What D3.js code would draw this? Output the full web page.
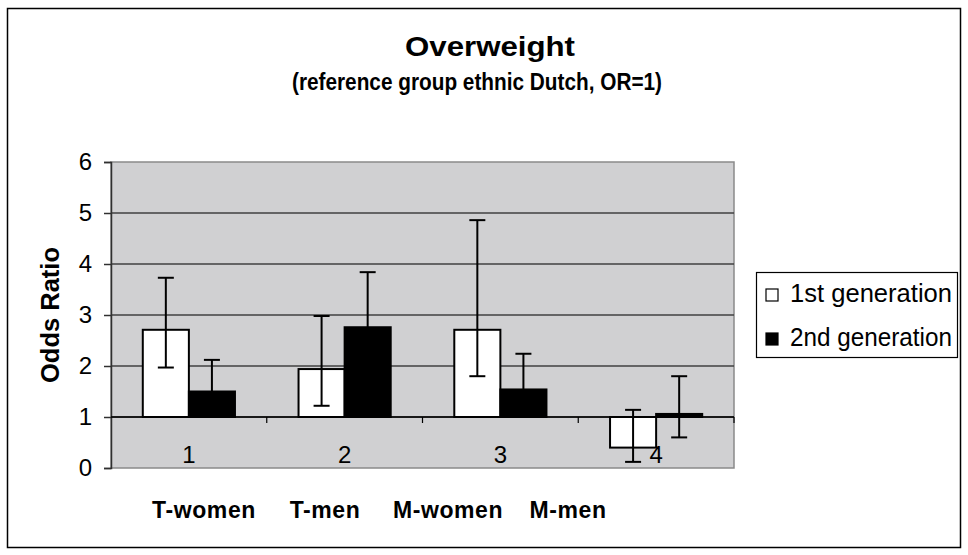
<!DOCTYPE html>
<html>
<head>
<meta charset="utf-8">
<script src="https://cdn.jsdelivr.net/npm/d3@7"></script>
<style>
    body { margin: 0; background: #fff; }
    text { font-family: "Liberation Sans", Arial, sans-serif; }
</style>
</head>
<body>
<div id="chart"></div>
<script>
// values (odds ratios, baseline OR=1)
const categories = ['1', '2', '3', '4']
const groupLabels = ['T-women', 'T-men', 'M-women', 'M-men']
const series = ['1st generation', '2nd generation']
const firstGen = [2.71, 1.94, 2.71, 0.40]
const firstLow = [1.97, 1.22, 1.80, 0.12]
const firstHigh = [3.73, 2.98, 4.86, 1.14]
const secondGen = [1.50, 2.76, 1.54, 1.06]
const secondLow = [1.05, 1.98, 1.08, 0.60]
const secondHigh = [2.12, 3.84, 2.24, 1.80]
const yTicks = [0, 1, 2, 3, 4, 5, 6]

const colors = { '1st generation': '#ffffff', '2nd generation': '#000000' }

class OddsChart {
    constructor(_config) {
        this.config = {
            parentElement: _config.parentElement,
            containerWidth: 968,
            containerHeight: 555,
            plot: { left: 111, right: 734, top: 162, bottom: 468 }
        }
        this.initVis()
    }

    initVis() {
        let vis = this
        let p = vis.config.plot

        vis.svg = d3.select(vis.config.parentElement).append('svg')
            .attr('width', vis.config.containerWidth)
            .attr('height', vis.config.containerHeight)

        // outer frame
        vis.svg.append('rect')
            .attr('x', 7.5).attr('y', 8.5)
            .attr('width', 953).attr('height', 539)
            .attr('fill', '#fff').attr('stroke', '#000').attr('stroke-width', 1.5)

        // the original text is a bit wider than Arial, so stretch it
        vis.svg.append('text')
            .attr('x', 490).attr('y', 56)
            .attr('text-anchor', 'middle')
            .attr('font-size', 28).attr('font-weight', 'bold')
            .attr('textLength', 170).attr('lengthAdjust', 'spacingAndGlyphs')
            .text('Overweight')
        vis.svg.append('text')
            .attr('x', 477).attr('y', 90)
            .attr('text-anchor', 'middle')
            .attr('font-size', 23).attr('font-weight', 'bold')
            .attr('textLength', 370).attr('lengthAdjust', 'spacingAndGlyphs')
            .text('(reference group ethnic Dutch, OR=1)')

        vis.yScale = d3.scaleLinear().domain([0, 6]).range([p.bottom, p.top])
        vis.xScale = d3.scaleBand().domain(categories).range([p.left, p.right]).padding(0)
        vis.xSub = d3.scaleBand().domain(series)
            .range([0, vis.xScale.bandwidth()])
            .paddingInner(0).paddingOuter(0.69)

        vis.chart = vis.svg.append('g')

        // plot background
        vis.chart.append('rect')
            .attr('x', p.left).attr('y', p.top)
            .attr('width', p.right - p.left).attr('height', p.bottom - p.top)
            .attr('fill', '#d0d0d2').attr('stroke', '#8a8a8a').attr('stroke-width', 1.5)

        // gridlines
        vis.chart.append('g')
            .selectAll('line')
            .data(yTicks.filter(d => d > 0 && d < 6))
            .join('line')
            .attr('x1', p.left).attr('x2', p.right)
            .attr('y1', d => vis.yScale(d)).attr('y2', d => vis.yScale(d))
            .attr('stroke', '#404040').attr('stroke-width', 1.5)

        // left axis
        vis.leftAxis = d3.axisLeft(vis.yScale).tickValues(yTicks)
            .tickFormat(d3.format('d')).tickSize(7).tickPadding(12)
        vis.chart.append('g')
            .attr('transform', `translate(${p.left},0)`)
            .call(vis.leftAxis)
            .call(g => g.select('.domain').attr('stroke', '#303030').attr('stroke-width', 1.5))
            .call(g => g.selectAll('.tick line').attr('stroke', '#303030').attr('stroke-width', 1.5))
            .call(g => g.selectAll('.tick text')
                .style('font-family', '"Liberation Sans", Arial, sans-serif')
                .style('font-size', '24px').attr('fill', '#000'))

        vis.svg.append('text')
            .attr('transform', `translate(59,${(p.top + p.bottom) / 2}) rotate(-90)`)
            .attr('text-anchor', 'middle')
            .attr('font-size', 25).attr('font-weight', 'bold')
            .attr('textLength', 136).attr('lengthAdjust', 'spacingAndGlyphs')
            .text('Odds Ratio')

        vis.renderVis()
    }

    renderVis() {
        let vis = this
        let p = vis.config.plot
        let base = vis.yScale(1)

        let rows = []
        categories.forEach((c, i) => {
            rows.push({ cat: c, s: series[0], v: firstGen[i], lo: firstLow[i], hi: firstHigh[i] })
            rows.push({ cat: c, s: series[1], v: secondGen[i], lo: secondLow[i], hi: secondHigh[i] })
        })

        // bars from OR=1
        vis.chart.append('g')
            .selectAll('rect')
            .data(rows)
            .join('rect')
            .attr('x', d => vis.xScale(d.cat) + vis.xSub(d.s))
            .attr('width', vis.xSub.bandwidth())
            .attr('y', d => Math.min(vis.yScale(d.v), base))
            .attr('height', d => Math.abs(vis.yScale(d.v) - base))
            .attr('fill', d => colors[d.s])
            .attr('stroke', '#000').attr('stroke-width', 2)

        // x axis crossing at 1
        vis.chart.append('line')
            .attr('x1', p.left).attr('x2', p.right)
            .attr('y1', base).attr('y2', base)
            .attr('stroke', '#000').attr('stroke-width', 1.5)
        vis.chart.append('g')
            .selectAll('line')
            .data(categories.slice(1).concat(['end']))
            .join('line')
            .attr('x1', d => d === 'end' ? p.right : vis.xScale(d))
            .attr('x2', d => d === 'end' ? p.right : vis.xScale(d))
            .attr('y1', base).attr('y2', base + 6)
            .attr('stroke', '#000').attr('stroke-width', 1.2)
        vis.chart.append('g')
            .selectAll('text')
            .data(categories)
            .join('text')
            .attr('x', d => vis.xScale(d) + vis.xScale.bandwidth() / 2)
            .attr('y', base + 46)
            .attr('text-anchor', 'middle')
            .attr('font-size', 24)
            .text(d => d)

        // error bars
        let eb = vis.chart.append('g')
            .selectAll('g')
            .data(rows)
            .join('g')
            .attr('transform', d => `translate(${vis.xScale(d.cat) + vis.xSub(d.s) + vis.xSub.bandwidth() / 2},0)`)
            .attr('stroke', '#000').attr('stroke-width', 2)
        eb.append('line')
            .attr('y1', d => vis.yScale(d.lo)).attr('y2', d => vis.yScale(d.hi))
        eb.append('line')
            .attr('x1', -8).attr('x2', 8)
            .attr('y1', d => vis.yScale(d.hi)).attr('y2', d => vis.yScale(d.hi))
        eb.append('line')
            .attr('x1', -8).attr('x2', 8)
            .attr('y1', d => vis.yScale(d.lo)).attr('y2', d => vis.yScale(d.lo))

        // group names under the chart
        const labelX = [204, 325, 448, 568]
        vis.svg.append('g')
            .selectAll('text')
            .data(groupLabels)
            .join('text')
            .attr('x', (d, i) => labelX[i])
            .attr('y', 518)
            .attr('text-anchor', 'middle')
            .attr('font-size', 23).attr('font-weight', 'bold')
            .attr('letter-spacing', 0.6)
            .text(d => d)

        // legend
        let lg = vis.svg.append('g')
        lg.append('rect')
            .attr('x', 756.5).attr('y', 272.5)
            .attr('width', 201).attr('height', 85)
            .attr('fill', '#fff').attr('stroke', '#000').attr('stroke-width', 1.2)
        let items = lg.selectAll('g.item')
            .data(series)
            .join('g')
            .attr('class', 'item')
            .attr('transform', (d, i) => `translate(0,${302 + i * 44})`)
        items.append('rect')
            .attr('x', 766).attr('y', -13)
            .attr('width', 12).attr('height', 12)
            .attr('fill', d => colors[d]).attr('stroke', '#000').attr('stroke-width', 1.2)
        items.append('text')
            .attr('x', 790).attr('y', 0)
            .attr('font-size', 25)
            .attr('textLength', 162).attr('lengthAdjust', 'spacingAndGlyphs')
            .text(d => d)
    }
}

new OddsChart({ parentElement: '#chart' })
</script>
</body>
</html>
